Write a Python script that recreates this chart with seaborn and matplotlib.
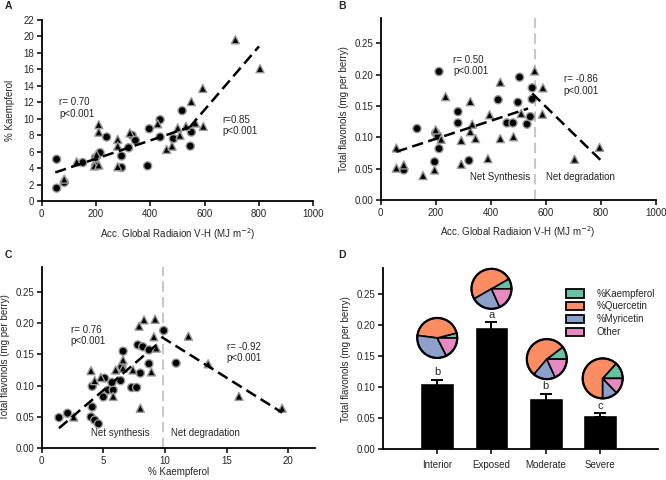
import numpy as np
import pandas as pd
import matplotlib
matplotlib.use("Agg")
import matplotlib.pyplot as plt
import seaborn as sns
from matplotlib.patches import Patch

sns.set_style("ticks")
plt.rcParams['font.family'] = ['Liberation Sans', 'DejaVu Sans']
plt.rcParams['font.size'] = 7

# ---------------- data ----------------
# Panel A: accumulated radiation vs % kaempferol
A_circ_x = [55, 55, 83, 151, 198, 198, 215, 239, 294, 294, 320, 333, 345, 390, 396, 436, 436, 485, 517, 551, 547]
A_circ_y = [5.1, 1.6, 2.3, 4.7, 5.3, 4.3, 5.9, 7.8, 5.5, 4.1, 6.5, 8.0, 7.4, 4.3, 8.8, 9.9, 7.8, 7.6, 11.0, 8.4, 6.7]
A_tri_x = [83, 129, 194, 210, 210, 210, 202, 280, 280, 280, 325, 427, 460, 480, 501, 509, 531, 551, 566, 593, 595, 713, 804]
A_tri_y = [2.7, 4.8, 4.3, 4.4, 9.3, 8.4, 5.7, 7.5, 6.7, 4.2, 8.3, 9.4, 6.3, 6.7, 8.9, 8.0, 9.1, 12.1, 9.5, 13.7, 9.1, 19.6, 16.1]
A_fit1_x = [50, 545]
A_fit1_y = [3.5, 9.0]
A_fit2_x = [545, 800]
A_fit2_y = [9.0, 18.8]

# Panel B: accumulated radiation vs total flavonols
B_circ_x = [212, 132, 200, 208, 212, 196, 84, 281, 281, 321, 427, 459, 481, 499, 505, 532, 544, 551, 551]
B_circ_y = [0.205, 0.114, 0.107, 0.102, 0.082, 0.061, 0.048, 0.141, 0.123, 0.063, 0.160, 0.123, 0.123, 0.156, 0.196, 0.121, 0.133, 0.179, 0.161]
B_tri_x = [57, 57, 84, 154, 196, 200, 220, 236, 293, 293, 326, 333, 326, 345, 390, 396, 435, 435, 483, 511, 560, 590, 588, 705, 796]
B_tri_y = [0.083, 0.051, 0.056, 0.039, 0.048, 0.112, 0.097, 0.165, 0.095, 0.057, 0.157, 0.121, 0.109, 0.098, 0.066, 0.136, 0.188, 0.098, 0.101, 0.138, 0.206, 0.179, 0.137, 0.065, 0.084]
B_fit1_x = [57, 536]
B_fit1_y = [0.077, 0.146]
B_fit2_x = [551, 799]
B_fit2_y = [0.170, 0.064]
B_split = 560

# Panel C: % kaempferol vs total flavonols
C_circ_x = [1.4, 2.1, 4.1, 4.1, 4.0, 4.3, 4.6, 5.1, 5.0, 5.4, 5.8, 5.7, 6.4, 6.5, 6.6, 7.3, 7.7, 7.8, 8.2, 8.0, 8.7, 8.7, 9.9, 10.9]
C_circ_y = [0.049, 0.056, 0.099, 0.066, 0.050, 0.045, 0.039, 0.112, 0.082, 0.093, 0.093, 0.105, 0.108, 0.130, 0.155, 0.097, 0.097, 0.165, 0.162, 0.120, 0.157, 0.135, 0.188, 0.136]
C_tri_x = [2.6, 4.0, 4.3, 4.8, 5.8, 6.0, 6.6, 6.6, 7.4, 7.9, 8.0, 8.3, 9.2, 8.9, 9.1, 9.3, 11.9, 13.5, 16.0, 19.5]
C_tri_y = [0.050, 0.124, 0.108, 0.113, 0.083, 0.125, 0.141, 0.128, 0.125, 0.195, 0.064, 0.205, 0.206, 0.122, 0.178, 0.160, 0.179, 0.135, 0.083, 0.064]
C_fit1_x = [1.4, 9.3]
C_fit1_y = [0.032, 0.165]
C_fit2_x = [9.7, 19.5]
C_fit2_y = [0.178, 0.057]
C_split = 9.8

# Panel D: bars + composition pies
categories = ["Interior", "Exposed", "Moderate", "Severe"]
means = [0.106, 0.197, 0.082, 0.055]
errs = [0.006, 0.007, 0.007, 0.003]
letters = ["b", "a", "b", "c"]
pct_kaempferol = [4.0, 8.3, 10.3, 13.3]
pct_quercetin = [44.0, 50.0, 53.6, 61.7]
pct_myricetin = [34.5, 23.3, 17.9, 12.2]
pct_other = [17.5, 18.3, 18.2, 12.8]
comp_labels = ["%Kaempferol", "%Quercetin", "%Myricetin", "Other"]
comp_colors = ["#66c2a5", "#fc8d62", "#8da0cb", "#e78ac3"]
pie_x = [0.0, 1.0, 2.02, 3.05]
pie_y = [0.179, 0.258, 0.145, 0.114]

# ---------------- figure ----------------
W, H = 666, 480
fig = plt.figure(figsize=(W / 100, H / 100), dpi=100)

def px_axes(left, bottom_px, right, top_px):
    return fig.add_axes([left / W, 1 - bottom_px / H, (right - left) / W, (bottom_px - top_px) / H])

axA = px_axes(41.7, 201.3, 313.3, 20.0)
axB = px_axes(380.7, 200.0, 655.7, 18.3)
axC = px_axes(41.7, 448.3, 315.4, 266.6)
axD = px_axes(383.0, 449.3, 658.0, 268.3)

def style(ax):
    sns.despine(ax=ax)
    for s in ["left", "bottom"]:
        ax.spines[s].set_linewidth(1.3)
        ax.spines[s].set_color("black")
    ax.tick_params(direction="out", length=3.5, width=1.1, color="black",
                   labelsize=7, pad=2)

def scatter(ax, cx, cy, tx, ty):
    df = pd.DataFrame({
        "x": list(cx) + list(tx),
        "y": list(cy) + list(ty),
        "group": ["circle"] * len(cx) + ["triangle"] * len(tx),
    })
    sns.scatterplot(data=df, x="x", y="y", style="group",
                    markers={"circle": "o", "triangle": "^"},
                    color="black", edgecolor="#9a9a9a", linewidth=1.0,
                    s=34, legend=False, ax=ax, zorder=3)

def fitline(ax, x, y):
    ax.plot(x, y, color="black", lw=1.8, dashes=(4.5, 2.2), zorder=4)

# Panel A
scatter(axA, A_circ_x, A_circ_y, A_tri_x, A_tri_y)
fitline(axA, A_fit1_x, A_fit1_y)
fitline(axA, A_fit2_x, A_fit2_y)
axA.set_xlim(0, 1000)
axA.set_ylim(0, 22)
axA.set_xticks(range(0, 1001, 200))
axA.set_yticks(range(0, 23, 2))
axA.set_xlabel("Acc. Global Radiaion V-H (MJ m$^{-2}$)", fontsize=7, labelpad=5)
axA.set_ylabel("% Kaempferol", fontsize=7, labelpad=6)
axA.text(65, 12.6, "r= 0.70\np<0.001", fontsize=7, va="top")
axA.text(666, 10.5, "r=0.85\np<0.001", fontsize=7, va="top")
style(axA)

# Panel B
scatter(axB, B_circ_x, B_circ_y, B_tri_x, B_tri_y)
axB.axvline(B_split, color="#c8c8c8", lw=1.5, dashes=(5, 2.5), zorder=2)
fitline(axB, B_fit1_x, B_fit1_y)
fitline(axB, B_fit2_x, B_fit2_y)
axB.set_xlim(0, 1000)
axB.set_ylim(0, 0.29)
axB.set_xticks(range(0, 1001, 200))
axB.set_yticks(np.arange(0, 0.26, 0.05))
axB.yaxis.set_major_formatter(matplotlib.ticker.FormatStrFormatter("%.2f"))
axB.set_xlabel("Acc. Global Radiaion V-H (MJ m$^{-2}$)", fontsize=7, labelpad=5)
axB.set_ylabel("Total flavonols (mg per berry)", fontsize=7, labelpad=4)
axB.text(263, 0.232, "r= 0.50\np<0.001", fontsize=7, va="top")
axB.text(665, 0.201, "r= -0.86\np<0.001", fontsize=7, va="top")
axB.text(434, 0.036, "Net Synthesis", fontsize=7, ha="center", va="center")
axB.text(725, 0.036, "Net degradation", fontsize=7, ha="center", va="center")
style(axB)

# Panel C
scatter(axC, C_circ_x, C_circ_y, C_tri_x, C_tri_y)
axC.axvline(C_split, color="#c8c8c8", lw=1.5, dashes=(5, 2.5), zorder=2)
fitline(axC, C_fit1_x, C_fit1_y)
fitline(axC, C_fit2_x, C_fit2_y)
axC.set_xlim(0, 22.2)
axC.set_ylim(0, 0.29)
axC.set_xticks(range(0, 21, 5))
axC.set_yticks(np.arange(0, 0.26, 0.05))
axC.yaxis.set_major_formatter(matplotlib.ticker.FormatStrFormatter("%.2f"))
axC.set_xlabel("% Kaempferol", fontsize=7, labelpad=1)
axC.set_ylabel("Total flavonols (mg per berry)", fontsize=7, labelpad=4)
axC.text(2.35, 0.197, "r= 0.76\np<0.001", fontsize=7, va="top")
axC.text(15.0, 0.170, "r= -0.92\np<0.001", fontsize=7, va="top")
axC.text(6.4, 0.025, "Net synthesis", fontsize=7, ha="center", va="center")
axC.text(13.3, 0.025, "Net degradation", fontsize=7, ha="center", va="center")
style(axC)

# Panel D
dfD = pd.DataFrame({"cat": categories, "mean": means})
sns.barplot(data=dfD, x="cat", y="mean", color="black", width=0.62,
            saturation=1, ax=axD, zorder=2)
axD.errorbar(range(len(categories)), means, yerr=errs, fmt="none",
             ecolor="black", elinewidth=1.4, capsize=4.5, capthick=1.4, zorder=3)
for i, (m, e, l) in enumerate(zip(means, errs, letters)):
    axD.text(i, m + e + 0.012, l, ha="center", va="center", fontsize=8)
axD.set_xlim(-1, 4.07)
axD.set_ylim(0, 0.291)
axD.set_yticks(np.arange(0, 0.26, 0.05))
axD.yaxis.set_major_formatter(matplotlib.ticker.FormatStrFormatter("%.2f"))
axD.set_xlabel("")
axD.set_ylabel("Total flavonols (mg per berry)", fontsize=7, labelpad=4)
style(axD)
axD.tick_params(axis="x", pad=4)

handles = [Patch(facecolor=c, edgecolor="black", linewidth=1.3, label=l)
           for c, l in zip(comp_colors, comp_labels)]
axD.legend(handles=handles, loc="upper left", bbox_to_anchor=(0.647, 0.915),
           frameon=False, fontsize=7, borderpad=0, labelspacing=0.3,
           handlelength=1.9, handleheight=1.0, handletextpad=1.3)

fig.canvas.draw()
for i in range(len(categories)):
    px, py = axD.transData.transform((pie_x[i], pie_y[i]))
    size = 50
    pax = fig.add_axes([(px - size / 2) / W, (py - size / 2) / H, size / W, size / H])
    fr = [pct_kaempferol[i], pct_quercetin[i], pct_myricetin[i], pct_other[i]]
    pax.pie(fr, colors=comp_colors, startangle=0, counterclock=True,
            wedgeprops=dict(edgecolor="black", linewidth=1.2))
    pax.add_patch(plt.Circle((0, 0), 1.0, fill=False, edgecolor="black", lw=1.6))
    pax.set_aspect("equal")

# panel letters
for lab, (x, y) in zip("ABCD", [(5, 6), (338, 6), (5, 255), (338, 255)]):
    fig.text(x / W, 1 - y / H, lab, fontsize=7.5, fontweight="bold", va="center", ha="left")

fig.savefig("out.png", dpi=100)
